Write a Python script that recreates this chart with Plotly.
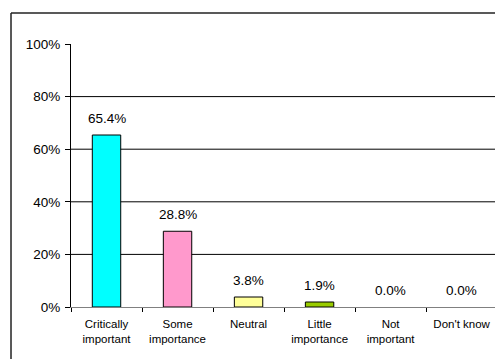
import plotly.graph_objects as go

# Survey responses: share of respondents per importance rating
categories = ["Critically<br>important", "Some<br>importance", "Neutral",
              "Little<br>importance", "Not<br>important", "Don't know"]
shares = [65.4, 28.8, 3.8, 1.9, 0.0, 0.0]
bar_colors = ["#00FFFF", "#FF99CC", "#FFFF99", "#99CC00", "#9999FF", "#993366"]
y_ticks = [0, 20, 40, 60, 80, 100]
grid_values = [20, 40, 60, 80]

FONT = "Liberation Sans, Arial, sans-serif"

fig = go.Figure()
fig.add_trace(go.Bar(
    x=categories,
    y=shares,
    width=0.4,
    marker=dict(color=bar_colors,
                line=dict(color="#000000", width=[1 if v > 0 else 0 for v in shares])),
    hoverinfo="skip",
))

# Value labels above each bar
for cat, val in zip(categories, shares):
    fig.add_annotation(
        x=cat, y=val, text=f"{val:.1f}%", showarrow=False,
        yanchor="bottom", yshift=7,
        font=dict(family=FONT, size=13.5, color="#000000"),
    )

shapes = []
# Horizontal gridlines
for g in grid_values:
    shapes.append(dict(type="line", xref="paper", yref="y", x0=0, x1=1, y0=g, y1=g,
                       line=dict(color="#000000", width=1), layer="below"))
# Chart-area frame (left and top edges)
shapes.append(dict(type="line", xref="paper", yref="paper", x0=-0.1415, x1=-0.1415,
                   y0=1.118, y1=-0.3, line=dict(color="#222222", width=1.5)))
shapes.append(dict(type="line", xref="paper", yref="paper", x0=-0.1415, x1=1.05,
                   y0=1.118, y1=1.118, line=dict(color="#222222", width=1.5)))

fig.update_layout(
    width=495, height=359,
    margin=dict(l=71, r=0, t=44, b=52),
    paper_bgcolor="#FFFFFF", plot_bgcolor="#FFFFFF",
    showlegend=False,
    shapes=shapes,
    font=dict(family=FONT, color="#000000"),
)
fig.update_xaxes(
    type="category",
    range=[-0.5, 5.47],
    showgrid=False, zeroline=False,
    showline=True, linecolor="#808080", linewidth=1,
    ticks="outside", ticklen=4, tickcolor="#000000",
    tickson="boundaries",
    ticklabelstandoff=6,
    tickfont=dict(family=FONT, size=11.5, color="#000000"),
)
fig.update_yaxes(
    range=[0, 100],
    tickvals=y_ticks,
    ticktext=[f"{t}%" for t in y_ticks],
    showgrid=False, zeroline=False,
    showline=True, linecolor="#000000", linewidth=1,
    ticks="outside", ticklen=5, tickcolor="#000000",
    ticklabelstandoff=2,
    tickfont=dict(family=FONT, size=13.5, color="#000000"),
)

fig.write_html("out.html", config={"displayModeBar": False})
